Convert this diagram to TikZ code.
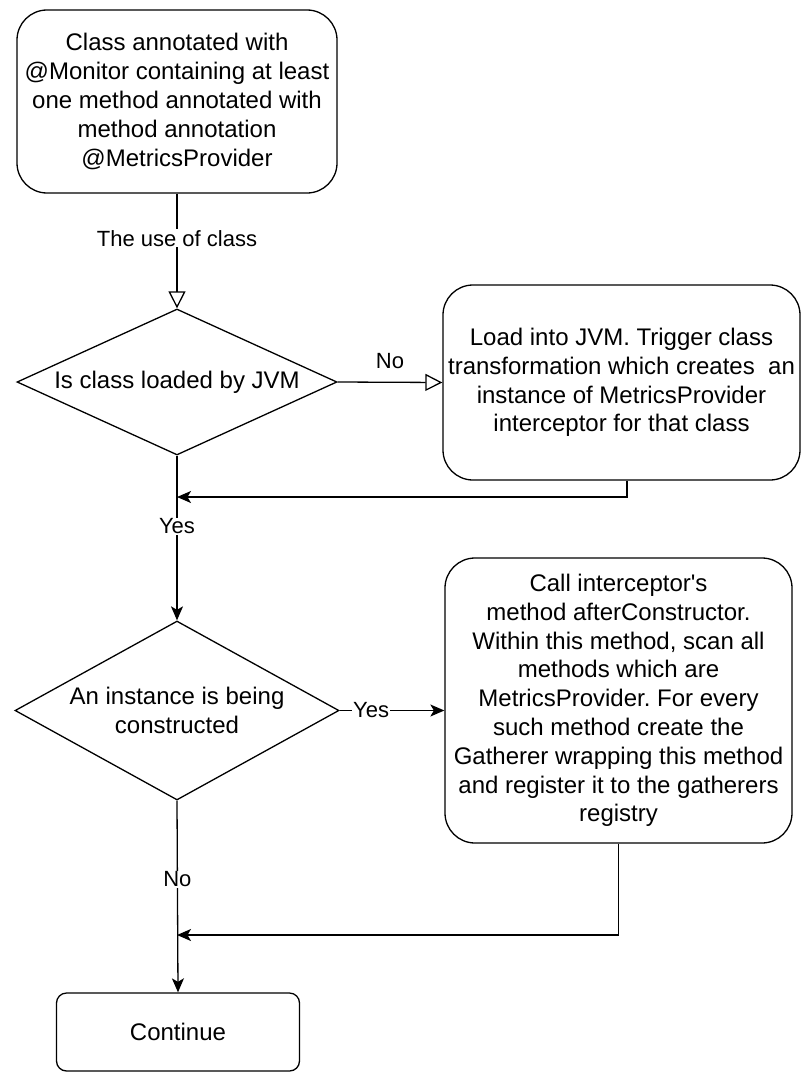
\documentclass[tikz,border=0pt]{standalone}
\usepackage{fontspec}
\setmainfont{Liberation Sans}[Ligatures=TeXOff]
\usetikzlibrary{shapes.geometric,arrows.meta,calc}
\begin{document}
\frenchspacing
\begin{tikzpicture}[x=1pt,y=-1pt,line width=1.3pt,
  box/.style={draw, rounded corners=30pt, align=center, inner sep=0pt,
    font=\fontsize{24}{28.8}\selectfont},
  dec/.style={draw, diamond, align=center, inner sep=0pt,
    font=\fontsize{24}{28.8}\selectfont},
  arr/.style={-{Stealth[length=14pt,width=12pt,inset=3.5pt]}},
  oarr/.style={-{Triangle[open,length=17pt,width=17pt,fill=white]}},
  lab/.style={fill=white, inner sep=1pt, font=\fontsize{22}{26}\selectfont}]
\useasboundingbox (0,0) rectangle (801,1073);

\node[box, minimum width=320pt, minimum height=183pt] (top) at (177,101.5)
  {Class annotated with\\@Monitor containing at least\\one method annotated with\\method annotation\\@MetricsProvider};

\node[dec, aspect=2.2, minimum width=320pt, minimum height=146pt] (d1) at (177,382)
  {Is class loaded by JVM};

\node[box, minimum width=357pt, minimum height=195pt] (b1) at (621.5,382.5)
  {Load into JVM. Trigger class\\transformation which creates\ \ an\\instance of MetricsProvider\\interceptor for that class};

\node[dec, aspect=1.8, minimum width=324pt, minimum height=179pt] (d2) at (177,710.5)
  {An instance is being\\constructed};

\node[box, minimum width=347pt, minimum height=285pt] (b2) at (618.5,700.5)
  {Call interceptor's\\method afterConstructor.\\Within this method, scan all\\methods which are\\MetricsProvider. For every\\such method create the\\Gatherer wrapping this method\\and register it to the gatherers\\registry};

\node[box, rounded corners=10pt, minimum width=243pt, minimum height=78pt] (cont) at (178,1032)
  {Continue};

\coordinate (m1) at (177,497);
\coordinate (m2) at (177,935);

\draw[oarr] (top.south) -- node[lab, pos=0.39] {The use of class} (d1.north);
\draw[oarr] (d1.east) -- node[lab, fill=none, pos=0.5, yshift=21pt] {No} (b1.west);
\draw[arr] ([xshift=5.5pt]b1.south) |- (m1);
\draw[arr] (d1.south) -- node[lab, pos=0.43] {Yes} (d2.north);
\draw[arr] (d2.east) -- node[lab, pos=0.3] {Yes} (d2.east -| b2.west);
\draw[arr] (b2.south) |- (m2);
\draw[arr] (d2.south) -- node[lab, pos=0.41] {No} (cont.north);
\end{tikzpicture}
\end{document}
